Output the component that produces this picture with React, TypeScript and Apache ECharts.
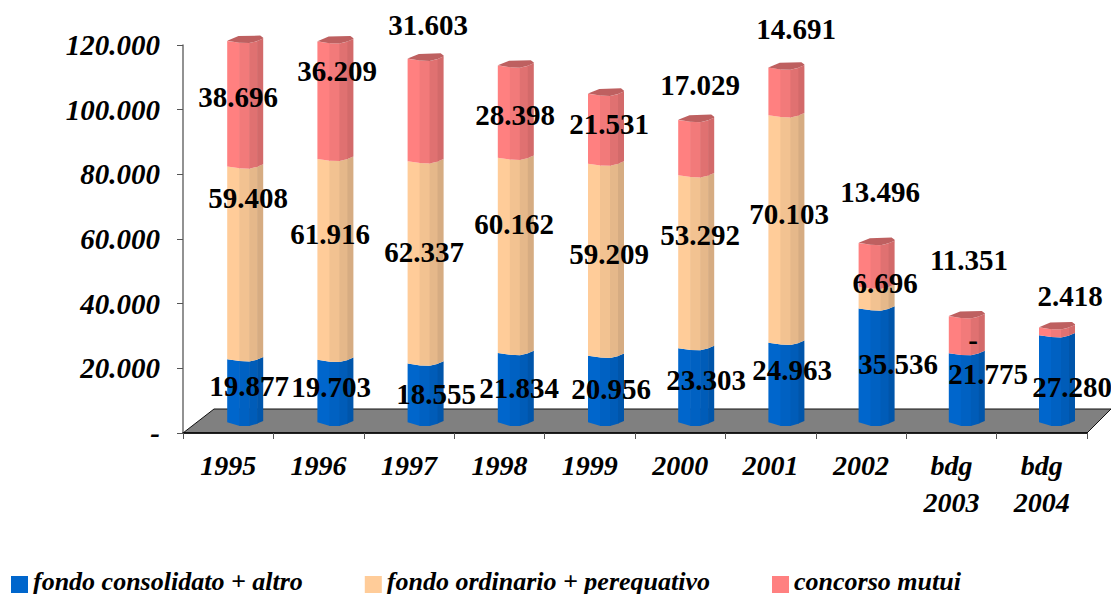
import React, { useEffect, useRef } from "react";
import * as echarts from "echarts";

const categories = ["1995", "1996", "1997", "1998", "1999", "2000", "2001", "2002", "bdg\n2003", "bdg\n2004"];
const consolidato = [19877, 19703, 18555, 21834, 20956, 23303, 24963, 35536, 21775, 27280];
const ordinario: (number | null)[] = [59408, 61916, 62337, 60162, 59209, 53292, 70103, 6696, 0, null];
const mutui = [38696, 36209, 31603, 28398, 21531, 17029, 14691, 13496, 11351, 2418];
const yTickLabels = ["-", "20.000", "40.000", "60.000", "80.000", "100.000", "120.000"];
const seriesNames = ["fondo consolidato + altro", "fondo ordinario + perequativo", "concorso mutui"];

// Hand-placed label anchors of the original (label centres, px)
const labelPosBlue = [[249, 386], [331, 387], [436, 394], [519, 388], [611, 389], [706, 380], [792, 370], [898, 364], [988, 374], [1072, 387]];
const labelPosPeach = [[248, 198], [330, 234], [424, 252], [514, 224], [609, 254], [700, 235], [789, 214], [885, 283], [973, 340], [0, 0]];
const labelPosRed = [[238, 97], [337, 71], [428, 25], [515, 115], [609, 124], [700, 85], [796, 29], [880, 192], [969, 260], [1070, 296]];

const FONT = '"Liberation Serif", serif';
const FACE_X = [0, 12, 22, 30, 36];
const PROFILE = [-2.2, -0.4, 0, -2, -4.5];
const BOTTOM_PROFILE = [-3.7, 0, 0, -2.4, -5];
const blueFaces = ["#0066CC", "#0061C2", "#005CB8", "#0055AA"];
const peachFaces = ["#FFCC99", "#F2C291", "#E5B88A", "#D6AC82"];
const redFaces = ["#FF8080", "#F27A7A", "#E07171", "#D36A6A"];
const capColor = "#BE6060";

const fmt = (v: number) => {
  if (!v) return "-";
  const s = String(v);
  return s.slice(0, -3) + "." + s.slice(-3);
};

function makeBars(faces: string[], isBase: boolean, hasCap: boolean) {
  return (_p: any, api: any) => {
    const i = api.value(0);
    const s = api.value(1);
    const e = api.value(2);
    if (!(e > s)) return { type: "group", children: [] };
    const zero = api.coord([i, 0])[1];
    const toY = (v: number) => zero - 7 - (zero - api.coord([i, v])[1]) * 1.0037;
    const left = api.coord([i, 0])[0] - 1 - 0.2 * i;
    const top = toY(e);
    const bot = toY(s);
    const children: any[] = [];
    faces.forEach((c, k) => {
      const x0 = left + FACE_X[k];
      const x1 = left + FACE_X[k + 1] + (k < faces.length - 1 ? 0.6 : 0);
      const bp = isBase ? BOTTOM_PROFILE : PROFILE;
      children.push({
        type: "polygon",
        shape: {
          points: [
            [x0, top + PROFILE[k]],
            [x1, top + PROFILE[k + 1]],
            [x1, bot + bp[k + 1]],
            [x0, bot + bp[k]],
          ],
        },
        style: { fill: c },
      });
    });
    if (hasCap) {
      children.push({
        type: "polygon",
        shape: {
          points: [
            [left, top - 2.4],
            [left + 11.3, top - 7],
            [left + 33, top - 7.6],
            [left + 36, top - 5.3],
            [left + 36, top - 4.5],
            [left + 30, top - 2],
            [left + 22, top],
            [left + 12, top - 0.4],
          ],
        },
        style: { fill: capColor },
      });
    }
    return { type: "group", children };
  };
}

function makeLabels(pos: number[][]) {
  return (p: any, api: any) => {
    const v = api.value(1);
    const idx = p.dataIndex;
    return {
      type: "text",
      x: pos[idx][0],
      y: pos[idx][1],
      z2: 10,
      style: {
        text: fmt(v),
        fill: "#000",
        font: `bold 29px ${FONT}`,
        align: "center",
        verticalAlign: "middle",
      },
    };
  };
}

export default function App() {
  const ref = useRef<HTMLDivElement>(null);
  useEffect(() => {
    document.body.style.margin = "0";
    const chart = echarts.init(ref.current!, undefined, { renderer: "svg" });
    const p = ordinario.map((v) => v ?? 0);
    const blueData = consolidato.map((v, i) => [i, 0, v]);
    const peachData = consolidato.map((v, i) => [i, v, v + p[i]]);
    const redData = consolidato.map((v, i) => [i, v + p[i], v + p[i] + mutui[i]]);
    const barSeries = (name: string, color: string, data: any[], faces: string[], base: boolean, cap: boolean) => ({
      type: "custom",
      name,
      z: 4,
      coordinateSystem: "cartesian2d",
      itemStyle: { color },
      encode: { x: 0, y: [1, 2] },
      data,
      renderItem: makeBars(faces, base, cap),
      silent: true,
    });
    const labelSeries = (vals: (number | null)[], pos: number[][]) => ({
      type: "custom",
      z: 8,
      coordinateSystem: "cartesian2d",
      encode: { x: 0, y: 1 },
      data: vals.map((v, i) => [i, v]).filter((d) => d[1] !== null),
      renderItem: makeLabels(pos),
      silent: true,
    });
    chart.setOption({
      animation: false,
      grid: { left: 183, top: 45, right: 24, height: 388, containLabel: false },
      xAxis: {
        type: "category",
        data: categories,
        z: 3,
        boundaryGap: true,
        axisLine: { lineStyle: { color: "#000", width: 1.5 } },
        axisTick: { show: true, alignWithLabel: false, length: 6, lineStyle: { color: "#555", width: 1 } },
        axisLabel: {
          interval: 0,
          margin: 14,
          color: "#000",
          fontFamily: FONT,
          fontStyle: "italic",
          fontWeight: "bold",
          fontSize: 28,
          lineHeight: 37,
        },
      },
      yAxis: {
        type: "value",
        min: 0,
        max: 120000,
        interval: 20000,
        z: 3,
        splitLine: { show: false },
        axisLine: { show: true, lineStyle: { color: "#6e6e6e", width: 1.5 } },
        axisTick: { show: true, length: 6, lineStyle: { color: "#555", width: 1 } },
        axisLabel: {
          margin: 23,
          color: "#000",
          fontFamily: FONT,
          fontStyle: "italic",
          fontWeight: "bold",
          fontSize: 29,
          formatter: (v: number) => yTickLabels[Math.round(v / 20000)],
        },
      },
      legend: {
        left: 11,
        top: 568,
        itemWidth: 17,
        itemHeight: 24,
        itemGap: 62,
        icon: "path://M0 0L0 0Z M0 7H17V24H0Z",
        padding: 0,
        data: seriesNames,
        textStyle: {
          color: "#000",
          fontFamily: FONT,
          fontStyle: "italic",
          fontWeight: "bold",
          fontSize: 26,
        },
      },
      graphic: [
        {
          type: "polygon",
          z: 1,
          shape: { points: [[183, 433], [214, 409], [1111, 409], [1087, 433]] },
          style: { fill: "#808080", stroke: "#111", lineWidth: 1 },
        },
      ],
      series: [
        barSeries(seriesNames[0], "#0066CC", blueData, blueFaces, true, false),
        barSeries(seriesNames[1], "#FFCC99", peachData, peachFaces, false, false),
        barSeries(seriesNames[2], "#FF8080", redData, redFaces, false, true),
        labelSeries(consolidato, labelPosBlue),
        labelSeries(ordinario, labelPosPeach),
        labelSeries(mutui, labelPosRed),
      ],
    });
    return () => chart.dispose();
  }, []);
  return <div ref={ref} style={{ width: 1111, height: 594 }} />;
}
